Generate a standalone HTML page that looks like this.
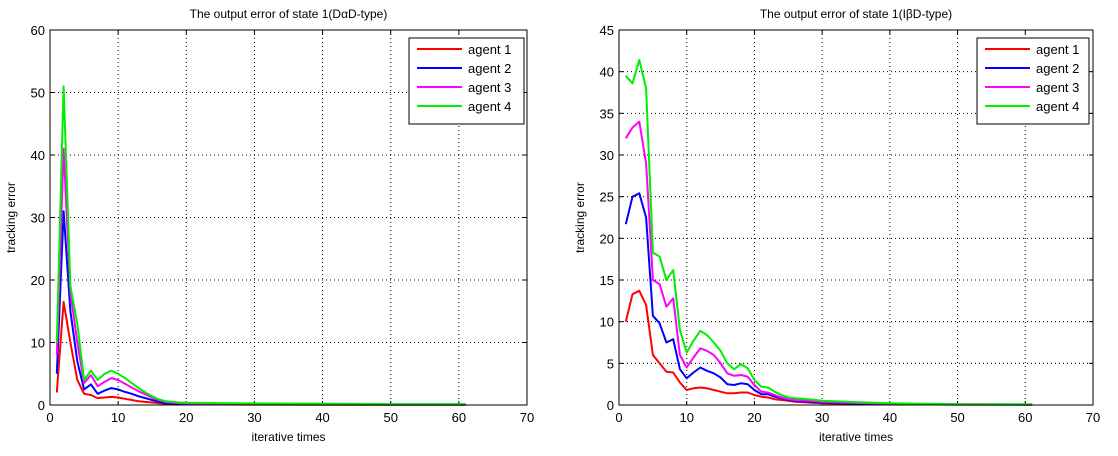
<!DOCTYPE html>
<html><head><meta charset="utf-8">
<style>
html,body{margin:0;padding:0;background:#fff;}
svg{display:block;font-family:"Liberation Sans",sans-serif;}
</style></head>
<body>
<svg id="chart" width="1118" height="456" viewBox="0 0 1118 456" xmlns="http://www.w3.org/2000/svg"></svg>
<script>
// Left chart data
const leftX = [1,2,3,4,5,6,7,8,9,10,11,12,13,14,15,16,17,18,19,20,25,30,40,50,61];
const leftAgent1 = [2,16.5,10,4,1.8,1.6,1.1,1.2,1.3,1.2,1.0,0.8,0.6,0.5,0.4,0.3,0.2,0.15,0.12,0.1,0.08,0.06,0.05,0.04,0.04];
const leftAgent2 = [5,31,15,7,2.5,3.3,1.8,2.3,2.7,2.5,2.1,1.8,1.4,1.1,0.8,0.5,0.3,0.25,0.2,0.15,0.12,0.1,0.08,0.06,0.06];
const leftAgent3 = [8,41,18,10,3.5,4.8,3,3.7,4.3,4,3.4,2.8,2.2,1.7,1.2,0.8,0.5,0.4,0.3,0.25,0.2,0.15,0.12,0.1,0.1];
const leftAgent4 = [10,51,19,13,4,5.5,4,5,5.5,5,4.3,3.5,2.7,2,1.4,0.9,0.6,0.5,0.4,0.35,0.3,0.25,0.2,0.15,0.15];
// Right chart data
const rightX = [1,2,3,4,5,6,7,8,9,10,11,12,13,14,15,16,17,18,19,20,21,22,23,24,25,26,27,28,29,30,35,40,50,61];
const rightAgent1 = [10,13.3,13.7,12,6,5,4,3.9,2.7,1.8,2,2.1,2,1.8,1.6,1.4,1.4,1.5,1.5,1.2,1,0.9,0.7,0.6,0.5,0.4,0.35,0.3,0.25,0.2,0.12,0.08,0.05,0.04];
const rightAgent2 = [21.7,25,25.4,22.5,10.7,9.8,7.5,7.9,4.3,3.2,3.9,4.5,4.1,3.8,3.3,2.5,2.4,2.6,2.5,1.8,1.3,1.3,1,0.8,0.6,0.5,0.45,0.4,0.35,0.3,0.18,0.1,0.06,0.05];
const rightAgent3 = [32,33.3,34,29,15,14.5,11.8,12.8,6,4.5,5.7,6.8,6.5,6,5,3.8,3.5,3.6,3.4,2.4,1.6,1.5,1.2,0.9,0.7,0.6,0.55,0.5,0.45,0.4,0.25,0.15,0.08,0.06];
const rightAgent4 = [39.5,38.6,41.4,38,18.3,17.8,15,16.2,9,6.3,7.7,8.9,8.4,7.5,6.5,5,4.3,4.9,4.4,3,2.2,2.1,1.6,1.2,0.9,0.8,0.75,0.7,0.6,0.5,0.35,0.2,0.1,0.08];
const xTicks = [0,10,20,30,40,50,60,70];
const leftYTicks = [0,10,20,30,40,50,60];
const rightYTicks = [0,5,10,15,20,25,30,35,40,45];
const agentNames = ["agent 1","agent 2","agent 3","agent 4"];
const colors = ["#ff0000","#0000ff","#ff00ff","#00ee00"];

const NS="http://www.w3.org/2000/svg";
const svg=document.getElementById('chart');
function mk(tag,attrs,parent){const e=document.createElementNS(NS,tag);for(const k in attrs)e.setAttribute(k,attrs[k]);(parent||svg).appendChild(e);return e;}

function drawChart(cfg){
  const g=mk('g',{});
  
  
  const {x0,x1,y0,y1,ymax,xs,series,yTicks}=cfg;
  const sx=v=>x0+(v/70)*(x1-x0);
  const sy=v=>y1-(v/ymax)*(y1-y0);
  // grid
  xTicks.forEach(t=>{
    if(t>0&&t<70){const l=mk('line',{x1:sx(t),x2:sx(t),y1:y0,y2:y1,stroke:'#000','stroke-width':1,'stroke-dasharray':'1,3'},g);
    }
    const tk=mk('line',{x1:sx(t),x2:sx(t),y1:y1,y2:y1-4,stroke:'#000'},g);
    const tk2=mk('line',{x1:sx(t),x2:sx(t),y1:y0,y2:y0+4,stroke:'#000'},g);
    const tx=mk('text',{x:sx(t),y:y1+17,'text-anchor':'middle','font-size':13,fill:'#000'},g);
    tx.textContent=t;
    
    
  });
  yTicks.forEach(t=>{
    if(t>0&&t<ymax){const l=mk('line',{x1:x0,x2:x1,y1:sy(t),y2:sy(t),stroke:'#000','stroke-width':1,'stroke-dasharray':'1,3'},g);
    }
    mk('line',{x1:x0,x2:x0+4,y1:sy(t),y2:sy(t),stroke:'#000'},g);
    mk('line',{x1:x1,x2:x1-4,y1:sy(t),y2:sy(t),stroke:'#000'},g);
    const tx=mk('text',{x:x0-5,y:sy(t)+5,'text-anchor':'end','font-size':13,fill:'#000'},g);
    tx.textContent=t;
    
    
  });
  // series
  series.forEach((s,i)=>{
    const pts=xs.map((xv,j)=>sx(xv).toFixed(1)+','+sy(s[j]).toFixed(1)).join(' ');
    const p=mk('polyline',{points:pts,fill:'none',stroke:colors[i],'stroke-width':2,'stroke-linejoin':'round'},g);
    
    
  });
  const frame=mk('rect',{x:x0,y:y0,width:x1-x0,height:y1-y0,fill:'none',stroke:'#000','stroke-width':1},g);
  
  
  // title & labels
  const title=mk('text',{x:(x0+x1)/2,y:18,'text-anchor':'middle','font-size':12,fill:'#000'},g);
  title.textContent=cfg.title;
  
  
  const xl=mk('text',{x:(x0+x1)/2,y:441,'text-anchor':'middle','font-size':12,fill:'#000'},g);
  xl.textContent='iterative times';
  
  
  const yx=x0-35, yy=(y0+y1)/2;
  const yl=mk('text',{x:yx,y:yy,'text-anchor':'middle','font-size':12,fill:'#000',transform:`rotate(-90 ${yx} ${yy})`},g);
  yl.textContent='tracking error';
  
  
  // legend
  const lg=mk('g',{},g);
  
  
  mk('rect',{x:cfg.lx,y:38,width:cfg.lw,height:86,fill:'#fff',stroke:'#000','stroke-width':1},lg);
  agentNames.forEach((n,i)=>{
    const ly=49+i*19;
    const e=mk('g',{},lg);
    
    
    mk('line',{x1:cfg.lx+8,x2:cfg.lx+53,y1:ly,y2:ly,stroke:colors[i],'stroke-width':2},e);
    const t=mk('text',{x:cfg.lx+59,y:ly+5,'font-size':13,fill:'#000'},e);
    t.textContent=n;
  });
}
drawChart({name:'left-chart',title:'The output error of state 1(D\u03B1D-type)',x0:50,x1:527,y0:30,y1:405,ymax:60,xs:leftX,series:[leftAgent1,leftAgent2,leftAgent3,leftAgent4],yTicks:leftYTicks,lx:409,lw:115});
drawChart({name:'right-chart',title:'The output error of state 1(I\u03B2D-type)',x0:619,x1:1093,y0:30,y1:405,ymax:45,xs:rightX,series:[rightAgent1,rightAgent2,rightAgent3,rightAgent4],yTicks:rightYTicks,lx:977,lw:112});
</script>
</body></html>
